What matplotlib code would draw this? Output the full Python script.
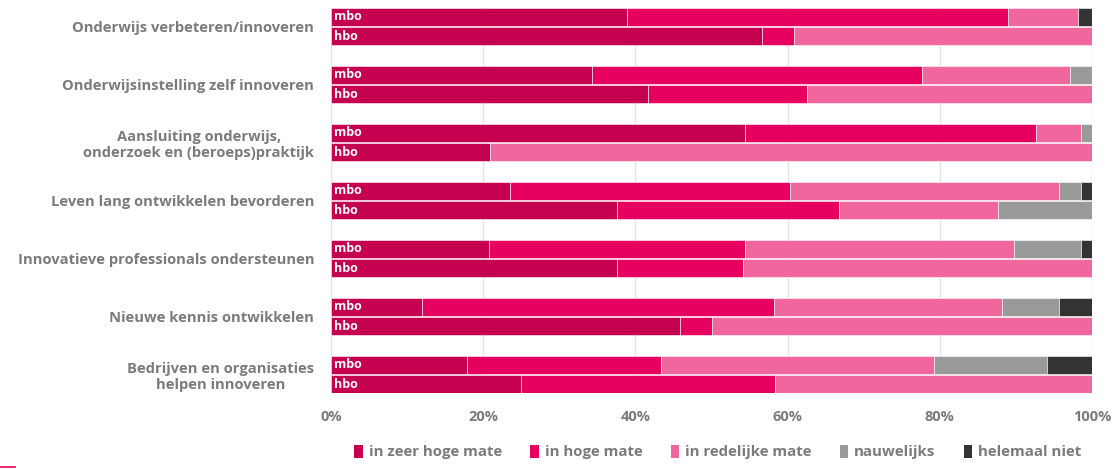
import matplotlib
matplotlib.use("Agg")
import matplotlib.pyplot as plt
from matplotlib.patches import Patch
from matplotlib.lines import Line2D

# categories (top to bottom)
categories = [
    "Onderwijs verbeteren/innoveren",
    "Onderwijsinstelling zelf innoveren",
    "Aansluiting onderwijs,\nonderzoek en (beroeps)praktijk",
    "Leven lang ontwikkelen bevorderen",
    "Innovatieve professionals ondersteunen",
    "Nieuwe kennis ontwikkelen",
    "Bedrijven en organisaties\nhelpen innoveren",
]
levels = ["mbo", "hbo"]
answers = ["in zeer hoge mate", "in hoge mate", "in redelijke mate",
           "nauwelijks", "helemaal niet"]

# percentages per answer, one value per category
mbo_zeer_hoog = [38.9, 34.3, 54.4, 23.5, 20.7, 12.0, 17.9]
mbo_hoog = [50.0, 43.3, 38.3, 36.8, 33.7, 46.2, 25.4]
mbo_redelijk = [9.3, 19.5, 5.9, 35.3, 35.4, 30.0, 35.9]
mbo_nauwelijks = [0.0, 2.9, 1.4, 3.0, 8.8, 7.4, 14.9]
mbo_niet = [1.8, 0.0, 0.0, 1.4, 1.4, 4.4, 5.9]

hbo_zeer_hoog = [56.6, 41.7, 20.9, 37.6, 37.6, 45.9, 25.0]
hbo_hoog = [4.3, 20.8, 0.0, 29.2, 16.6, 4.1, 33.4]
hbo_redelijk = [39.1, 37.5, 79.1, 20.8, 45.8, 50.0, 41.6]
hbo_nauwelijks = [0.0, 0.0, 0.0, 12.4, 0.0, 0.0, 0.0]
hbo_niet = [0.0, 0.0, 0.0, 0.0, 0.0, 0.0, 0.0]

ticks = [0, 20, 40, 60, 80, 100]
tick_labels = ["0%", "20%", "40%", "60%", "80%", "100%"]

colors = ["#c4004f", "#e60060", "#f0679e", "#9a9a9a", "#333333"]
text_grey = "#7b7b7b"

plt.rcParams['font.family'] = ['Open Sans', 'DejaVu Sans']

W, H = 1114, 469
fig = plt.figure(figsize=(W / 100, H / 100), dpi=100)
ax = fig.add_axes([331 / W, 1 - 393 / H, (1092 - 331) / W, (393 - 8) / H])

pitch = 58.0
bar_h = 18.0
offset = 19.5

series = {
    "mbo": [mbo_zeer_hoog, mbo_hoog, mbo_redelijk, mbo_nauwelijks, mbo_niet],
    "hbo": [hbo_zeer_hoog, hbo_hoog, hbo_redelijk, hbo_nauwelijks, hbo_niet],
}

for j, lvl in enumerate(levels):
    ys = [i * pitch + j * offset for i in range(len(categories))]
    left = [0.0] * len(categories)
    for k, vals in enumerate(series[lvl]):
        ax.barh(ys, vals, left=left, height=bar_h, color=colors[k],
                edgecolor="white", linewidth=0.4, zorder=2)
        left = [a + b for a, b in zip(left, vals)]
    for y in ys:
        ax.text(0.45, y, lvl, color="white", fontsize=9, fontweight="bold",
                va="center", ha="left", zorder=3)

ax.set_xlim(0, 100)
ax.set_ylim((len(categories) - 1) * pitch + offset + bar_h / 2, -bar_h / 2)

ax.set_xticks(ticks)
ax.set_xticklabels(tick_labels, color=text_grey, fontsize=10.5, fontweight="bold")
ax.tick_params(axis="x", length=0, pad=12)
ax.set_yticks([i * pitch + offset / 2 for i in range(len(categories))])
ax.set_yticklabels(categories, color=text_grey, fontsize=10.6, fontweight="bold",
                   multialignment="center")
ax.tick_params(axis="y", length=0, pad=12)

for x in ticks:
    ax.axvline(x, color="#e3e3e3", linewidth=1, zorder=0, ymin=-0.02, ymax=1)
for s in ax.spines.values():
    s.set_visible(False)

handles = [Patch(facecolor=c, edgecolor="none") for c in colors]
fig.legend(handles, answers, loc="center", ncol=5, frameon=False,
           bbox_to_anchor=(718 / W, 1 - 452 / H),
           handlelength=0.55, handleheight=1.0, handletextpad=0.4,
           columnspacing=1.9,
           prop={"size": 10.8, "weight": "bold"}, labelcolor=text_grey)

fig.add_artist(Line2D([0, 15 / W], [1 - 467 / H, 1 - 467 / H],
                      color="#e60060", linewidth=1.2))

fig.savefig("out.png", dpi=100)
